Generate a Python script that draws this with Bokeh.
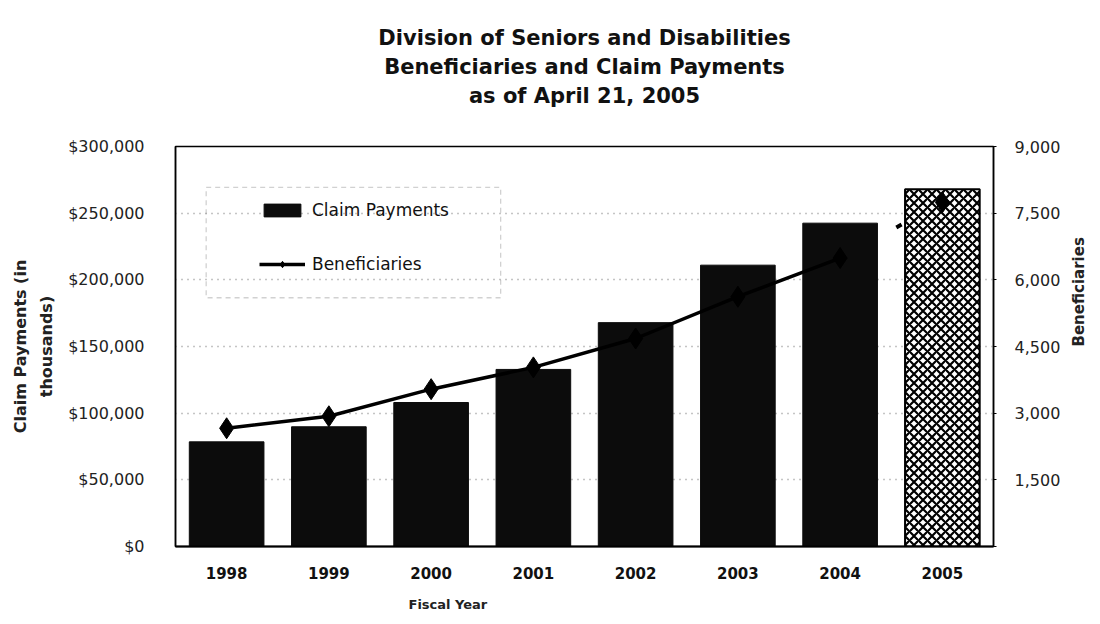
import math
from bokeh.plotting import figure
from bokeh.models import (Range1d, LinearAxis, FixedTicker, NumeralTickFormatter,
                          Legend, LegendItem, BoxAnnotation, FactorRange, Title)
from bokeh.embed import file_html
from bokeh.resources import INLINE

# ---- data ----
years = ["1998", "1999", "2000", "2001", "2002", "2003", "2004", "2005"]
claim_payments = [78500, 89800, 108000, 132800, 167900, 211000, 242500, 268000]  # $ thousands
beneficiaries = [2660, 2930, 3540, 4030, 4680, 5620, 6490, 7745]
left_ticks = [0, 50000, 100000, 150000, 200000, 250000, 300000]
right_ticks = [0, 1500, 3000, 4500, 6000, 7500, 9000]
title_lines = ["Division of Seniors and Disabilities",
               "Beneficiaries and Claim Payments",
               "as of April 21, 2005"]
series_names = ["Claim Payments", "Beneficiaries"]

FONT = "DejaVu Sans"

p = figure(x_range=FactorRange(factors=years, range_padding=0),
           y_range=Range1d(0, 300000),
           width=1100, height=624,
           min_border_left=175, min_border_right=106,
           min_border_top=146, min_border_bottom=76,
           output_backend="svg", toolbar_location=None)
p.extra_y_ranges = {"ben": Range1d(0, 9000)}

p.background_fill_color = "white"
p.border_fill_color = "white"
p.outline_line_color = "black"
p.outline_line_width = 1.5

# grid
p.xgrid.grid_line_color = None
p.ygrid.grid_line_color = "#8a8a8a"
p.ygrid.grid_line_dash = "1 5"
p.ygrid.grid_line_width = 1.5
p.ygrid.ticker = FixedTicker(ticks=left_ticks)

# left axis
yax = p.yaxis[0]
yax.ticker = FixedTicker(ticks=left_ticks)
yax.formatter = NumeralTickFormatter(format="$0,0")
yax.major_label_text_font = FONT
yax.major_label_text_font_size = "16px"
yax.major_label_text_color = "#222222"
yax.major_label_standoff = 25
yax.major_tick_line_color = None
yax.minor_tick_line_color = None
yax.axis_line_color = "black"
yax.axis_line_width = 1.5
yax.axis_label = "Claim Payments (in\nthousands)"
yax.axis_label_text_font = FONT
yax.axis_label_text_font_style = "bold"
yax.axis_label_text_font_size = "16px"
yax.axis_label_text_line_height = 1.4
yax.axis_label_text_color = "#222222"
yax.axis_label_standoff = 9

# bottom axis
xax = p.xaxis[0]
xax.major_label_text_font = FONT
xax.major_label_text_font_style = "bold"
xax.major_label_text_font_size = "15px"
xax.major_label_text_color = "#111111"
xax.major_label_standoff = 14
xax.major_tick_line_color = None
xax.minor_tick_line_color = None
xax.axis_line_color = "black"
xax.axis_line_width = 2

# right axis
rax = LinearAxis(y_range_name="ben", ticker=FixedTicker(ticks=right_ticks),
                 formatter=NumeralTickFormatter(format="0,0"),
                 major_label_overrides={0: ""})
rax.major_label_text_font = FONT
rax.major_label_text_font_size = "16px"
rax.major_label_text_color = "#222222"
rax.major_label_standoff = 18
rax.major_tick_line_color = "black"
rax.major_tick_out = 3
rax.major_tick_in = 0
rax.minor_tick_line_color = None
rax.axis_line_color = "black"
rax.axis_line_width = 1.5
rax.axis_label = "Beneficiaries"
rax.axis_label_text_font = FONT
rax.axis_label_text_font_style = "bold"
rax.axis_label_text_font_size = "15px"
rax.axis_label_text_color = "#222222"
rax.axis_label_standoff = 16
try:
    rax.axis_label_orientation = math.pi / 2
except Exception:
    pass
p.add_layout(rax, "right")

# bars
bars = p.vbar(x=years[:7], top=claim_payments[:7], width=0.73,
              fill_color="#0c0c0c", line_color="#0c0c0c")
p.vbar(x=years[7:], top=claim_payments[7:], width=0.73,
       fill_color="white", line_color="black", line_width=2,
       hatch_pattern="x", hatch_color="black", hatch_scale=9, hatch_weight=2.2)

# line
ln = p.line(x=years[:7], y=beneficiaries[:7], y_range_name="ben",
            line_color="black", line_width=3.5)
p.line(x=years[6:], y=beneficiaries[6:], y_range_name="ben",
       line_color="black", line_width=4, line_dash="0 64 6 300")
mk = p.scatter(x=years, y=beneficiaries, y_range_name="ben", marker="diamond",
               size=21, fill_color="black", line_color="black")

# legend box (dashed)
p.add_layout(BoxAnnotation(left=0.30, right=3.18, top=269400, bottom=186570,
                           fill_alpha=0, line_color="#666666", line_width=1.3,
                           line_dash="5 4"))

legend = Legend(items=[LegendItem(label=series_names[0], renderers=[bars]),
                       LegendItem(label=series_names[1], renderers=[ln, mk])],
                location=(84, 272), orientation="vertical",
                glyph_width=46, glyph_height=16, label_standoff=7,
                spacing=34, padding=0, margin=0,
                border_line_alpha=0, background_fill_alpha=0,
                label_text_font=FONT, label_text_font_size="17px",
                label_text_color="#111111")
p.add_layout(legend)

# spacer between the frame and the title block (white on white)
p.add_layout(Title(text=".", standoff=27, text_font_size="10px", text_color="white"), "above")
# title lines, nearest to the frame first
for txt in title_lines[::-1]:
    p.add_layout(Title(text=txt, align="center", standoff=3,
                       text_font=FONT, text_font_style="bold", text_font_size="21px",
                       text_color="#111111"), "above")

# x axis title, offset to match the reference position
p.add_layout(Title(text="Fiscal Year", align="left", offset=233, standoff=26,
                   text_font=FONT, text_font_style="bold", text_font_size="13px",
                   text_color="#222222"), "below")

open("out.html", "w").write(file_html(p, INLINE))
